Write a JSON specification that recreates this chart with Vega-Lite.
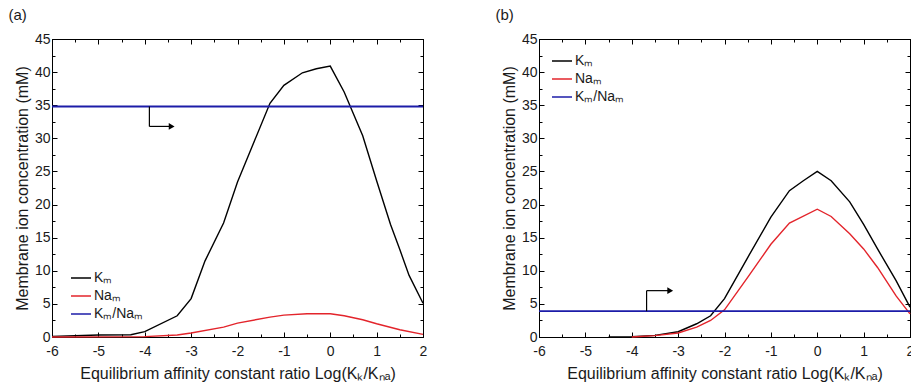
{
  "$schema": "https://vega.github.io/schema/vega-lite/v6.json",
  "padding": {"left": 7, "top": 7, "right": 0, "bottom": 0},
  "spacing": 66,
  "background": "white",
  "config": {
    "font": "Liberation Sans",
    "view": {"stroke": "black", "strokeWidth": 1},
    "axis": {"domainColor": "black", "tickColor": "black", "tickWidth": 1, "labelColor": "#1a1a1a", "titleColor": "#1a1a1a", "labelFontSize": 14, "titleFontSize": 16, "titleFontWeight": "normal", "grid": false, "labelFont": "Liberation Sans", "titleFont": "Liberation Sans", "labelFlush": false},
    "legend": {"orient": "none", "symbolType": "stroke", "symbolSize": 400, "symbolStrokeWidth": 1.5, "labelFontSize": 14, "labelFont": "Liberation Sans", "labelColor": "#1a1a1a", "rowPadding": 0, "labelOffset": 2},
    "title": {"fontSize": 15, "fontWeight": "normal", "anchor": "start", "frame": "bounds", "color": "#1a1a1a", "font": "Liberation Sans"}
  },
  "resolve": {"scale": {"color": "independent"}, "legend": {"color": "independent"}},
  "datasets": {
    "lines": [
      {"panel": "a", "series": "Kₘ", "x": -6, "y": 0.1},
      {"panel": "a", "series": "Kₘ", "x": -5.5, "y": 0.2},
      {"panel": "a", "series": "Kₘ", "x": -5, "y": 0.3},
      {"panel": "a", "series": "Kₘ", "x": -4.3, "y": 0.35},
      {"panel": "a", "series": "Kₘ", "x": -4, "y": 0.8},
      {"panel": "a", "series": "Kₘ", "x": -3.3, "y": 3.2},
      {"panel": "a", "series": "Kₘ", "x": -3, "y": 5.8},
      {"panel": "a", "series": "Kₘ", "x": -2.7, "y": 11.5},
      {"panel": "a", "series": "Kₘ", "x": -2.3, "y": 17.2},
      {"panel": "a", "series": "Kₘ", "x": -2, "y": 23.4},
      {"panel": "a", "series": "Kₘ", "x": -1.7, "y": 28.5},
      {"panel": "a", "series": "Kₘ", "x": -1.3, "y": 35.3},
      {"panel": "a", "series": "Kₘ", "x": -1, "y": 38},
      {"panel": "a", "series": "Kₘ", "x": -0.6, "y": 39.9},
      {"panel": "a", "series": "Kₘ", "x": -0.3, "y": 40.5},
      {"panel": "a", "series": "Kₘ", "x": 0, "y": 40.9},
      {"panel": "a", "series": "Kₘ", "x": 0.3, "y": 37},
      {"panel": "a", "series": "Kₘ", "x": 0.7, "y": 30.4},
      {"panel": "a", "series": "Kₘ", "x": 1, "y": 23.6},
      {"panel": "a", "series": "Kₘ", "x": 1.3, "y": 17},
      {"panel": "a", "series": "Kₘ", "x": 1.5, "y": 13.2},
      {"panel": "a", "series": "Kₘ", "x": 1.7, "y": 9.3},
      {"panel": "a", "series": "Kₘ", "x": 2, "y": 5.1},
      {"panel": "a", "series": "Naₘ", "x": -6, "y": 0},
      {"panel": "a", "series": "Naₘ", "x": -5, "y": 0.02},
      {"panel": "a", "series": "Naₘ", "x": -4, "y": 0.05},
      {"panel": "a", "series": "Naₘ", "x": -3.3, "y": 0.3},
      {"panel": "a", "series": "Naₘ", "x": -3, "y": 0.6},
      {"panel": "a", "series": "Naₘ", "x": -2.3, "y": 1.5},
      {"panel": "a", "series": "Naₘ", "x": -2, "y": 2.1},
      {"panel": "a", "series": "Naₘ", "x": -1.3, "y": 3.0},
      {"panel": "a", "series": "Naₘ", "x": -1, "y": 3.3},
      {"panel": "a", "series": "Naₘ", "x": -0.5, "y": 3.5},
      {"panel": "a", "series": "Naₘ", "x": 0, "y": 3.5},
      {"panel": "a", "series": "Naₘ", "x": 0.3, "y": 3.2},
      {"panel": "a", "series": "Naₘ", "x": 0.7, "y": 2.6},
      {"panel": "a", "series": "Naₘ", "x": 1, "y": 2.0},
      {"panel": "a", "series": "Naₘ", "x": 1.5, "y": 1.1},
      {"panel": "a", "series": "Naₘ", "x": 2, "y": 0.4},
      {"panel": "b", "series": "Kₘ", "x": -4.5, "y": 0},
      {"panel": "b", "series": "Kₘ", "x": -4, "y": 0.05},
      {"panel": "b", "series": "Kₘ", "x": -3.5, "y": 0.25},
      {"panel": "b", "series": "Kₘ", "x": -3, "y": 0.8},
      {"panel": "b", "series": "Kₘ", "x": -2.6, "y": 2},
      {"panel": "b", "series": "Kₘ", "x": -2.3, "y": 3.2},
      {"panel": "b", "series": "Kₘ", "x": -2, "y": 5.8},
      {"panel": "b", "series": "Kₘ", "x": -1.5, "y": 12},
      {"panel": "b", "series": "Kₘ", "x": -1, "y": 18.1},
      {"panel": "b", "series": "Kₘ", "x": -0.6, "y": 22.1},
      {"panel": "b", "series": "Kₘ", "x": -0.3, "y": 23.6},
      {"panel": "b", "series": "Kₘ", "x": 0, "y": 25},
      {"panel": "b", "series": "Kₘ", "x": 0.3, "y": 23.6},
      {"panel": "b", "series": "Kₘ", "x": 0.7, "y": 20.4},
      {"panel": "b", "series": "Kₘ", "x": 1, "y": 17},
      {"panel": "b", "series": "Kₘ", "x": 1.3, "y": 13.3},
      {"panel": "b", "series": "Kₘ", "x": 1.7, "y": 8.5},
      {"panel": "b", "series": "Kₘ", "x": 2, "y": 4.5},
      {"panel": "b", "series": "Naₘ", "x": -4, "y": 0},
      {"panel": "b", "series": "Naₘ", "x": -3.5, "y": 0.2},
      {"panel": "b", "series": "Naₘ", "x": -3, "y": 0.6},
      {"panel": "b", "series": "Naₘ", "x": -2.6, "y": 1.5},
      {"panel": "b", "series": "Naₘ", "x": -2.3, "y": 2.5},
      {"panel": "b", "series": "Naₘ", "x": -2, "y": 4.1},
      {"panel": "b", "series": "Naₘ", "x": -1.5, "y": 9},
      {"panel": "b", "series": "Naₘ", "x": -1, "y": 14},
      {"panel": "b", "series": "Naₘ", "x": -0.6, "y": 17.2},
      {"panel": "b", "series": "Naₘ", "x": 0, "y": 19.3},
      {"panel": "b", "series": "Naₘ", "x": 0.3, "y": 18.2},
      {"panel": "b", "series": "Naₘ", "x": 0.7, "y": 15.6},
      {"panel": "b", "series": "Naₘ", "x": 1, "y": 13.3},
      {"panel": "b", "series": "Naₘ", "x": 1.3, "y": 10.5},
      {"panel": "b", "series": "Naₘ", "x": 1.7, "y": 6.2},
      {"panel": "b", "series": "Naₘ", "x": 2, "y": 3.5}
    ],
    "ratio": [
      {"panel": "a", "series": "Kₘ/Naₘ", "y": 34.8},
      {"panel": "b", "series": "Kₘ/Naₘ", "y": 3.9}
    ],
    "arrows": [
      {"panel": "a", "x": -3.9, "y": 34.8, "x2": -3.9, "y2": 31.8},
      {"panel": "a", "x": -3.9, "y": 31.8, "x2": -3.45, "y2": 31.8},
      {"panel": "b", "x": -3.68, "y": 3.9, "x2": -3.68, "y2": 7.0},
      {"panel": "b", "x": -3.68, "y": 7.0, "x2": -3.2, "y2": 7.0}
    ],
    "heads": [
      {"panel": "a", "x": -3.42, "y": 31.8},
      {"panel": "b", "x": -3.17, "y": 7.0}
    ]
  },
  "hconcat": [
    {
      "width": 371, "height": 298,
      "title": {"text": "(a)", "dx": -6, "offset": 9},
      "resolve": {"axis": {"x": "independent", "y": "independent"}},
      "layer": [
        {
          "data": {"name": "lines"},
          "transform": [{"filter": "datum.panel === 'a'"}],
          "mark": {"type": "line", "strokeWidth": 1.4},
          "encoding": {
            "x": {"field": "x", "type": "quantitative", "scale": {"domain": [-6, 2], "nice": false},
              "axis": {"orient": "bottom", "title": "Equilibrium affinity constant ratio Log(Kₖ/Kₙₐ)", "values": [-6, -5.5, -5, -4.5, -4, -3.5, -3, -2.5, -2, -1.5, -1, -0.5, 0, 0.5, 1, 1.5, 2], "labelExpr": "datum.value % 1 === 0 ? '' + datum.value : ''", "tickSize": {"condition": {"test": "datum.value % 1 !== 0", "value": -3}, "value": -5}, "labelPadding": 12, "titlePadding": 7}},
            "y": {"field": "y", "type": "quantitative", "scale": {"domain": [0, 45], "nice": false},
              "axis": {"orient": "left", "title": "Membrane ion concentration (mM)", "values": [0, 2.5, 5, 7.5, 10, 12.5, 15, 17.5, 20, 22.5, 25, 27.5, 30, 32.5, 35, 37.5, 40, 42.5, 45], "labelExpr": "datum.value % 5 === 0 ? '' + datum.value : ''", "tickSize": {"condition": {"test": "datum.value % 5 !== 0", "value": -3}, "value": -5}, "labelPadding": 7, "titlePadding": 4}},
            "color": {"field": "series", "type": "nominal", "scale": {"domain": ["Kₘ", "Naₘ", "Kₘ/Naₘ"], "range": ["#000000", "#e3242b", "#1c1ca8"]}, "legend": {"title": null, "legendX": 18, "legendY": 228}}
          }
        },
        {
          "data": {"name": "ratio"},
          "transform": [{"filter": "datum.panel === 'a'"}],
          "mark": {"type": "rule", "strokeWidth": 2},
          "encoding": {
            "y": {"field": "y", "type": "quantitative", "scale": {"domain": [0, 45], "nice": false}, "axis": null},
            "color": {"field": "series", "type": "nominal", "scale": {"domain": ["Kₘ", "Naₘ", "Kₘ/Naₘ"], "range": ["#000000", "#e3242b", "#1c1ca8"]}, "legend": {"title": null, "legendX": 18, "legendY": 228}}
          }
        },
        {
          "data": {"name": "arrows"},
          "transform": [{"filter": "datum.panel === 'a'"}],
          "mark": {"type": "rule", "strokeWidth": 1.2, "color": "black"},
          "encoding": {
            "x": {"field": "x", "type": "quantitative", "scale": {"domain": [-6, 2], "nice": false},
              "axis": {"orient": "top", "title": null, "values": [-6, -5.5, -5, -4.5, -4, -3.5, -3, -2.5, -2, -1.5, -1, -0.5, 0, 0.5, 1, 1.5, 2], "labels": false, "tickSize": {"condition": {"test": "datum.value % 1 !== 0", "value": -3}, "value": -5}}},
            "x2": {"field": "x2"},
            "y": {"field": "y", "type": "quantitative", "scale": {"domain": [0, 45], "nice": false},
              "axis": {"orient": "right", "title": null, "values": [0, 2.5, 5, 7.5, 10, 12.5, 15, 17.5, 20, 22.5, 25, 27.5, 30, 32.5, 35, 37.5, 40, 42.5, 45], "labels": false, "tickSize": {"condition": {"test": "datum.value % 5 !== 0", "value": -3}, "value": -5}}},
            "y2": {"field": "y2"}
          }
        },
        {
          "data": {"name": "heads"},
          "transform": [{"filter": "datum.panel === 'a'"}],
          "mark": {"type": "point", "shape": "triangle-right", "filled": true, "color": "black", "size": 45, "opacity": 1},
          "encoding": {
            "x": {"field": "x", "type": "quantitative", "scale": {"domain": [-6, 2], "nice": false}, "axis": null},
            "y": {"field": "y", "type": "quantitative", "scale": {"domain": [0, 45], "nice": false}, "axis": null}
          }
        }
      ]
    },
    {
      "width": 371, "height": 298,
      "title": {"text": "(b)", "dx": -6, "offset": 9},
      "resolve": {"axis": {"x": "independent", "y": "independent"}},
      "layer": [
        {
          "data": {"name": "lines"},
          "transform": [{"filter": "datum.panel === 'b'"}],
          "mark": {"type": "line", "strokeWidth": 1.4},
          "encoding": {
            "x": {"field": "x", "type": "quantitative", "scale": {"domain": [-6, 2], "nice": false},
              "axis": {"orient": "bottom", "title": "Equilibrium affinity constant ratio Log(Kₖ/Kₙₐ)", "values": [-6, -5.5, -5, -4.5, -4, -3.5, -3, -2.5, -2, -1.5, -1, -0.5, 0, 0.5, 1, 1.5, 2], "labelExpr": "datum.value % 1 === 0 ? '' + datum.value : ''", "tickSize": {"condition": {"test": "datum.value % 1 !== 0", "value": -3}, "value": -5}, "labelPadding": 12, "titlePadding": 7}},
            "y": {"field": "y", "type": "quantitative", "scale": {"domain": [0, 45], "nice": false},
              "axis": {"orient": "left", "title": "Membrane ion concentration (mM)", "values": [0, 2.5, 5, 7.5, 10, 12.5, 15, 17.5, 20, 22.5, 25, 27.5, 30, 32.5, 35, 37.5, 40, 42.5, 45], "labelExpr": "datum.value % 5 === 0 ? '' + datum.value : ''", "tickSize": {"condition": {"test": "datum.value % 5 !== 0", "value": -3}, "value": -5}, "labelPadding": 7, "titlePadding": 4}},
            "color": {"field": "series", "type": "nominal", "scale": {"domain": ["Kₘ", "Naₘ", "Kₘ/Naₘ"], "range": ["#000000", "#e3242b", "#1c1ca8"]}, "legend": {"title": null, "legendX": 12, "legendY": 11}}
          }
        },
        {
          "data": {"name": "ratio"},
          "transform": [{"filter": "datum.panel === 'b'"}],
          "mark": {"type": "rule", "strokeWidth": 1.6},
          "encoding": {
            "y": {"field": "y", "type": "quantitative", "scale": {"domain": [0, 45], "nice": false}, "axis": null},
            "color": {"field": "series", "type": "nominal", "scale": {"domain": ["Kₘ", "Naₘ", "Kₘ/Naₘ"], "range": ["#000000", "#e3242b", "#1c1ca8"]}, "legend": {"title": null, "legendX": 12, "legendY": 11}}
          }
        },
        {
          "data": {"name": "arrows"},
          "transform": [{"filter": "datum.panel === 'b'"}],
          "mark": {"type": "rule", "strokeWidth": 1.2, "color": "black"},
          "encoding": {
            "x": {"field": "x", "type": "quantitative", "scale": {"domain": [-6, 2], "nice": false},
              "axis": {"orient": "top", "title": null, "values": [-6, -5.5, -5, -4.5, -4, -3.5, -3, -2.5, -2, -1.5, -1, -0.5, 0, 0.5, 1, 1.5, 2], "labels": false, "tickSize": {"condition": {"test": "datum.value % 1 !== 0", "value": -3}, "value": -5}}},
            "x2": {"field": "x2"},
            "y": {"field": "y", "type": "quantitative", "scale": {"domain": [0, 45], "nice": false},
              "axis": {"orient": "right", "title": null, "values": [0, 2.5, 5, 7.5, 10, 12.5, 15, 17.5, 20, 22.5, 25, 27.5, 30, 32.5, 35, 37.5, 40, 42.5, 45], "labels": false, "tickSize": {"condition": {"test": "datum.value % 5 !== 0", "value": -3}, "value": -5}}},
            "y2": {"field": "y2"}
          }
        },
        {
          "data": {"name": "heads"},
          "transform": [{"filter": "datum.panel === 'b'"}],
          "mark": {"type": "point", "shape": "triangle-right", "filled": true, "color": "black", "size": 45, "opacity": 1},
          "encoding": {
            "x": {"field": "x", "type": "quantitative", "scale": {"domain": [-6, 2], "nice": false}, "axis": null},
            "y": {"field": "y", "type": "quantitative", "scale": {"domain": [0, 45], "nice": false}, "axis": null}
          }
        }
      ]
    }
  ]
}
